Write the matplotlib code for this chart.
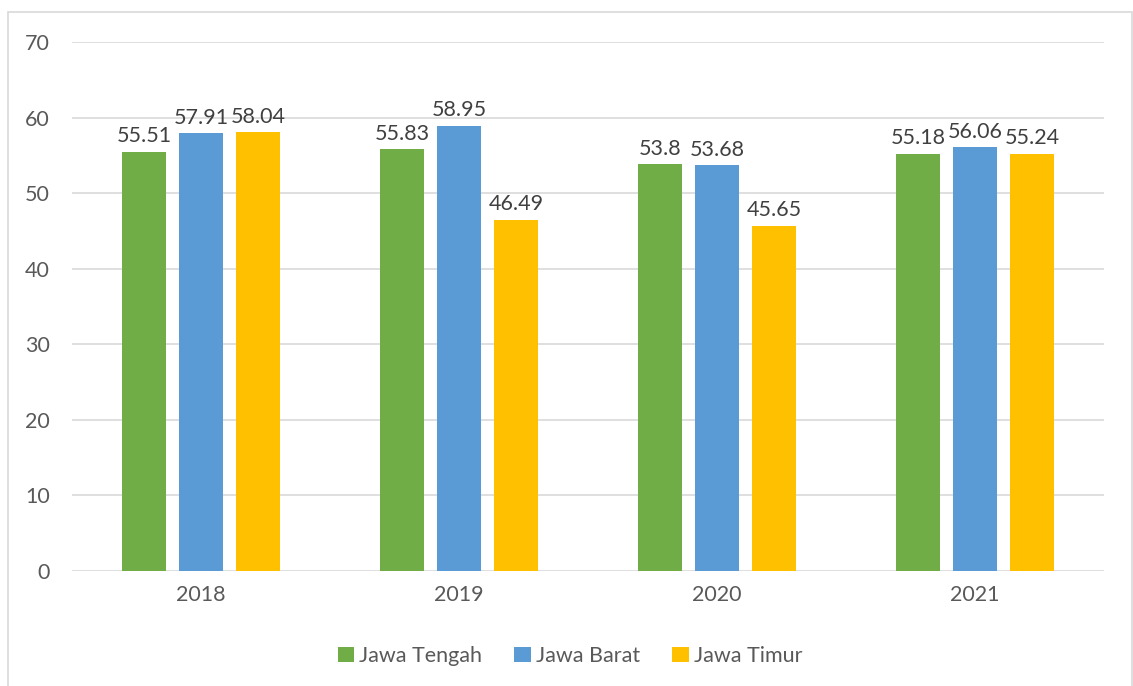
import matplotlib.pyplot as plt
import numpy as np
from matplotlib.patches import Rectangle

years = ["2018", "2019", "2020", "2021"]
series_names = ["Jawa Tengah", "Jawa Barat", "Jawa Timur"]
jawa_tengah = [55.51, 55.83, 53.8, 55.18]
jawa_barat = [57.91, 58.95, 53.68, 56.06]
jawa_timur = [58.04, 46.49, 45.65, 55.24]
colors = ["#70AD47", "#5B9BD5", "#FFC000"]

plt.rcParams["font.family"] = ["Lato", "DejaVu Sans"]
FS = 15.5

fig = plt.figure(figsize=(11.33, 6.86), dpi=100)
fig.patches.append(Rectangle((8 / 1133, -0.02), 1124 / 1133, 1 - 12 / 686 + 0.02,
                             transform=fig.transFigure, fill=False,
                             edgecolor="#D9D9D9", linewidth=1.2))
ax = fig.add_axes([72 / 1133, 1 - 571 / 686, 1032 / 1133, 529 / 686])

x = np.arange(len(years))
width = 0.174
step = 0.221
for i, (name, vals) in enumerate(zip(series_names, [jawa_tengah, jawa_barat, jawa_timur])):
    bars = ax.bar(x + (i - 1) * step, vals, width, color=colors[i], label=name, zorder=3)
    for b, v in zip(bars, vals):
        ax.annotate(f"{v:g}", (b.get_x() + b.get_width() / 2, v),
                    xytext=(0, 4), textcoords="offset points",
                    ha="center", va="bottom", fontsize=FS, color="#404040")

ax.set_xlim(-0.5, 3.5)
ax.set_ylim(0, 70)
ax.set_yticks(range(0, 71, 10))
ax.set_xticks(x)
ax.set_xticklabels(years)
ax.grid(axis="y", color="#D9D9D9", linewidth=1.2, zorder=0)
for s in ax.spines.values():
    s.set_visible(False)
ax.tick_params(length=0, labelsize=FS, colors="#595959")
ax.tick_params(axis="y", pad=16)
ax.tick_params(axis="x", pad=10)

ax.legend(loc="center", bbox_to_anchor=(498 / 1032, (571 - 656) / 529),
          ncol=3, frameon=False, fontsize=FS, handlelength=0.75, handleheight=0.75,
          handletextpad=0.25, columnspacing=1.5, labelcolor="#595959")

fig.savefig("out.png", dpi=100)
